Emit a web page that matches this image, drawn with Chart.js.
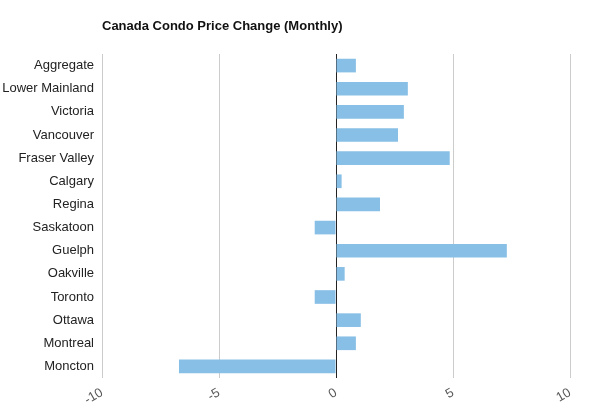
<!DOCTYPE html>
<html>
<head>
<meta charset="utf-8">
<script src="https://cdn.jsdelivr.net/npm/chart.js@4"></script>
<style>
  html, body { margin: 0; padding: 0; background: #fff; }
  #wrap { width: 589px; height: 409px; position: relative; }
</style>
</head>
<body>
<div id="wrap"><canvas id="condoChart"></canvas></div>
<script>
// Données du graphique
const chartTitle = 'Canada Condo Price Change (Monthly)';
const regions = ['Aggregate', 'Lower Mainland', 'Victoria', 'Vancouver', 'Fraser Valley', 'Calgary', 'Regina',
    'Saskatoon', 'Guelph', 'Oakville', 'Toronto', 'Ottawa', 'Montreal', 'Moncton'];
const priceChange = [0.85, 3.07, 2.9, 2.65, 4.86, 0.24, 1.88, -0.91, 7.3, 0.37, -0.91, 1.06, 0.85, -6.71];
const xTicks = [-10, -5, 0, 5, 10];

// Titre dessiné au-dessus de la zone du graphique
const titlePlugin = {
    id: 'leftTitle',
    afterDraw(chart) {
        const ctx = chart.ctx;
        ctx.save();
        ctx.font = 'bold 13px Arial, "Liberation Sans", sans-serif';
        ctx.fillStyle = '#111';
        ctx.textBaseline = 'middle';
        ctx.textAlign = 'left';
        ctx.fillText(chartTitle, chart.chartArea.left, 26);
        ctx.restore();
    }
};

const ctx = document.getElementById('condoChart').getContext('2d');
new Chart(ctx, {
    type: 'bar',
    data: {
        labels: regions,
        datasets: [{
            data: priceChange,
            backgroundColor: '#88bfe6',
            borderWidth: 0,
            barPercentage: 0.59,
            categoryPercentage: 1
        }]
    },
    options: {
        indexAxis: 'y',
        responsive: true,
        maintainAspectRatio: false,
        animation: false,
        layout: { padding: { top: 54, right: 19, left: 0, bottom: 0 } },
        plugins: {
            legend: { display: false },
            title: { display: false },
            tooltip: { enabled: false }
        },
        scales: {
            x: {
                min: -10,
                max: 10,
                afterBuildTicks: axis => { axis.ticks = xTicks.map(v => ({ value: v })); },
                afterFit: axis => { axis.height = 31; },
                border: { display: false },
                grid: {
                    drawTicks: false,
                    color: c => (c.tick && c.tick.value === 0) ? '#222' : '#cccccc',
                    lineWidth: 1
                },
                ticks: {
                    minRotation: 30,
                    maxRotation: 30,
                    padding: 7,
                    color: '#555',
                    font: { family: 'Arial, "Liberation Sans", sans-serif', size: 13 }
                }
            },
            y: {
                afterFit: axis => { axis.width = 102; },
                border: { display: false },
                grid: { display: false, drawTicks: false },
                ticks: {
                    padding: 8,
                    color: '#222',
                    font: { family: 'Arial, "Liberation Sans", sans-serif', size: 13 }
                }
            }
        }
    },
    plugins: [titlePlugin]
});
</script>
</body>
</html>
